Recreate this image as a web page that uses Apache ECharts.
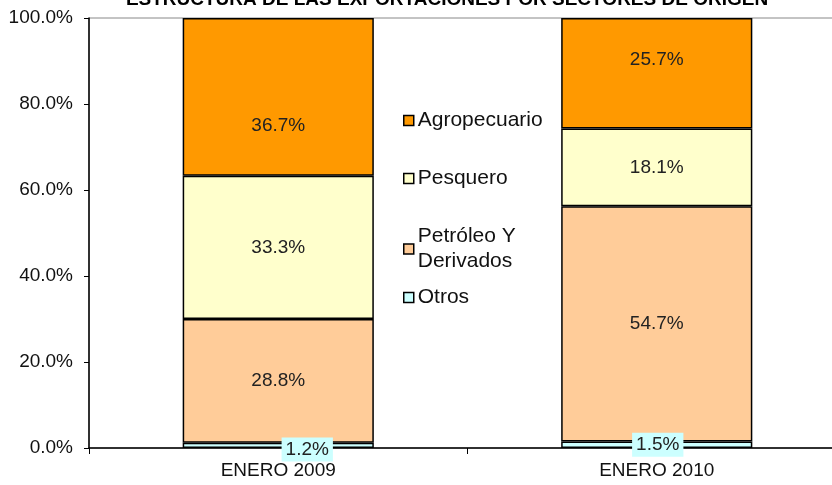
<!DOCTYPE html>
<html><head><meta charset="utf-8">
<script src="https://cdn.jsdelivr.net/npm/echarts@6/dist/echarts.min.js"></script>
<style>html,body{margin:0;padding:0;background:#fff}#c{width:832px;height:485px}</style>
</head><body><div id="c"></div>
<script>
const categories = ['ENERO 2009', 'ENERO 2010'];
const otros = [1.2, 1.5];
const petroleo = [28.8, 54.7];
const pesquero = [33.3, 18.1];
const agropecuario = [36.7, 25.7];
const yTicks = [0, 20, 40, 60, 80, 100];

const font = 'Liberation Sans, Arial, sans-serif';
const border = {borderColor: '#000', borderWidth: 1.5};
const lbl = {show: true, position: 'inside', color: '#222', fontSize: 19, fontFamily: font, formatter: p => p.value.toFixed(1) + '%'};

const chart = echarts.init(document.getElementById('c'));
chart.setOption({
  animation: false,
  title: {text: 'ESTRUCTURA DE LAS EXPORTACIONES POR SECTORES DE ORIGEN', left: 442, textAlign: 'center', top: -15,
    textStyle: {fontSize: 19, fontWeight: 'bold', fontFamily: font, color: '#000'}},
  grid: {left: 89, top: 18, width: 757, height: 430, outerBoundsMode: 'none', containLabel: false,
    show: true, borderColor: '#888', borderWidth: 1},
  legend: [
    {data: ['Agropecuario'], left: 398, top: 103},
    {data: ['Pesquero'], left: 398, top: 161},
    {data: ['Petróleo Y Derivados'], left: 398, top: 219, formatter: () => 'Petróleo Y\nDerivados'},
    {data: ['Otros'], left: 398, top: 280}
  ].map(l => Object.assign({orient: 'vertical', itemWidth: 10, itemHeight: 10, itemGap: 4, icon: 'rect',
      textStyle: {fontSize: 21, fontFamily: font, color: '#111', lineHeight: 25, padding: [0, 0, 0, -1]},
      itemStyle: {borderColor: '#000', borderWidth: 1.5}}, l)),
  xAxis: {type: 'category', data: categories,
    axisLine: {lineStyle: {color: '#000', width: 1.5}},
    axisTick: {show: true, length: 6, lineStyle: {color: '#000'}},
    axisLabel: {fontSize: 19, fontFamily: font, color: '#111', margin: 13}},
  yAxis: {type: 'value', min: 0, max: 100, interval: 20,
    axisLine: {show: true, lineStyle: {color: '#000', width: 1.5}},
    axisTick: {show: true, length: 5, inside: false, lineStyle: {color: '#000'}},
    splitLine: {show: false},
    axisLabel: {fontSize: 19, fontFamily: font, color: '#111', margin: 16,
      formatter: v => yTicks.includes(v) ? v.toFixed(1) + '%' : ''}},
  series: [
    {name: 'Otros', type: 'bar', stack: 's', data: otros, barWidth: '50.5%', itemStyle: Object.assign({color: '#CCFFFF'}, border),
      label: Object.assign({}, lbl, {backgroundColor: '#CCFFFF', padding: [3, 4, 2, 4]}),
      labelLayout: p => ({x: p.rect.x + p.rect.width / 2 + (p.dataIndex === 0 ? 29 : 1), y: p.rect.y + p.rect.height / 2 + (p.dataIndex === 0 ? 4 : 0), align: 'center', verticalAlign: 'middle'})},
    {name: 'Petróleo Y Derivados', type: 'bar', stack: 's', data: petroleo, itemStyle: Object.assign({color: '#FFCC99'}, border), label: lbl},
    {name: 'Pesquero', type: 'bar', stack: 's', data: pesquero, itemStyle: Object.assign({color: '#FFFFCC'}, border), label: lbl},
    {name: 'Agropecuario', type: 'bar', stack: 's', data: agropecuario, itemStyle: Object.assign({color: '#FF9900'}, border), label: lbl,
      labelLayout: p => ({x: p.rect.x + p.rect.width / 2, y: p.rect.y + p.rect.height / 2 + (p.dataIndex === 0 ? 29 : -13), align: 'center', verticalAlign: 'middle'})}
  ]
});
</script></body></html>
